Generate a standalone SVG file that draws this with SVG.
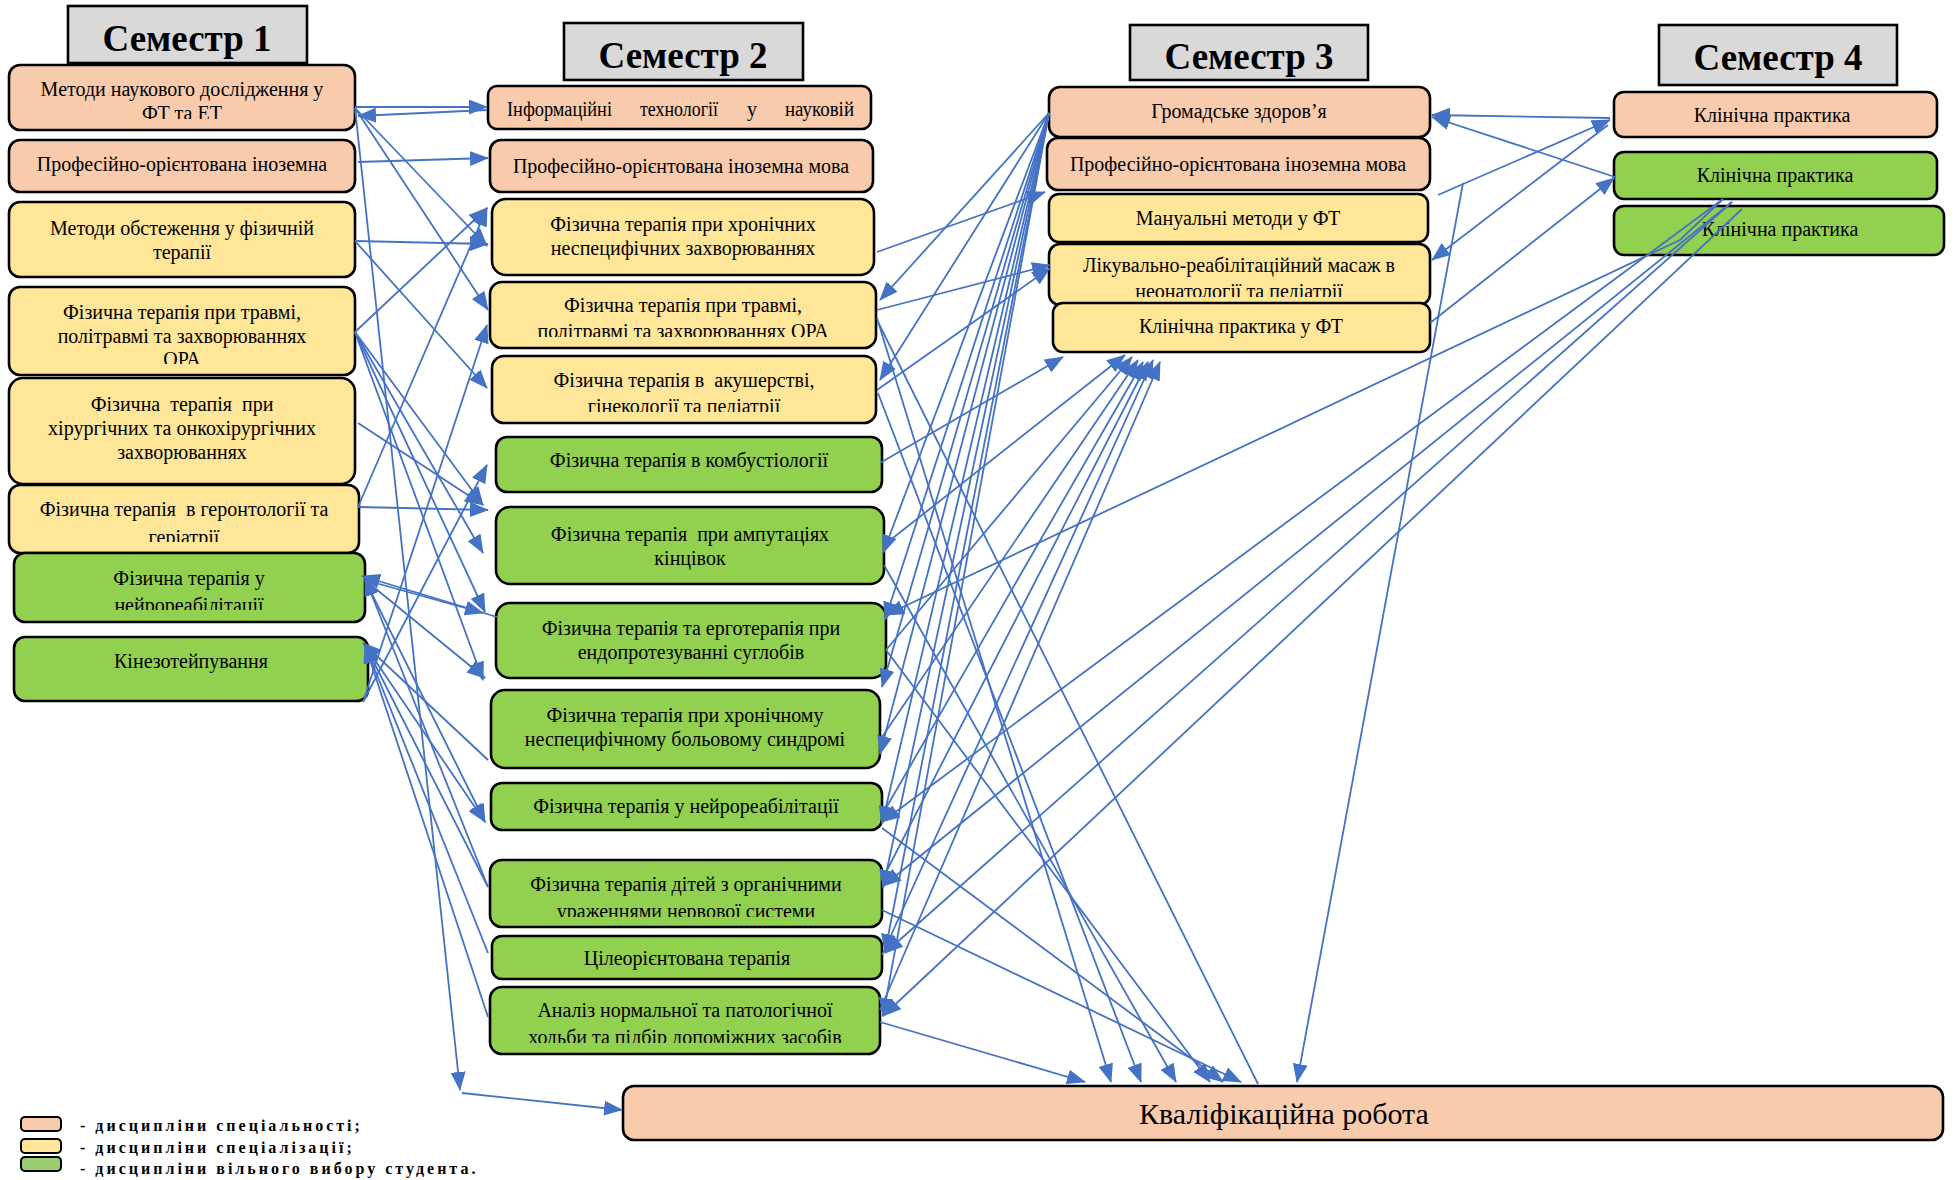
<svg xmlns="http://www.w3.org/2000/svg" width="1957" height="1180" viewBox="0 0 1957 1180">
<style>
.n{stroke:#000;stroke-width:2.6}
.p{fill:#F8CBAD}.y{fill:#FFE699}.g{fill:#92D050}
.h{fill:#D9D9D9;stroke:#000;stroke-width:2.6}
text{font-family:"Liberation Serif","Times New Roman",serif;fill:#000}
.t{font-size:20px;text-anchor:middle}
.ht{font-size:37px;font-weight:bold;text-anchor:middle}
.lg{font-size:16px;font-weight:bold;letter-spacing:3px}
.w{font-size:20px}
.c line,.c polyline{stroke:#4472C4;stroke-width:1.8;fill:none}
.c .a{marker-end:url(#ar)}
</style>
<defs>
<marker id="ar" viewBox="0 0 19 15" refX="18" refY="7.5" markerWidth="19" markerHeight="15" markerUnits="userSpaceOnUse" orient="auto"><path d="M0,0 L19,7.5 L0,15 z" fill="#4472C4"/></marker>
<clipPath id="k1"><rect x="0" y="60" width="400" height="59"/></clipPath>
<clipPath id="k4"><rect x="0" y="280" width="400" height="84"/></clipPath>
<clipPath id="k6"><rect x="0" y="480" width="400" height="62"/></clipPath>
<clipPath id="k7"><rect x="0" y="550" width="400" height="60"/></clipPath>
<clipPath id="m4"><rect x="480" y="280" width="420" height="57"/></clipPath>
<clipPath id="m5"><rect x="480" y="350" width="420" height="62"/></clipPath>
<clipPath id="m11"><rect x="480" y="855" width="420" height="62"/></clipPath>
<clipPath id="m13"><rect x="480" y="985" width="420" height="58"/></clipPath>
<clipPath id="r4"><rect x="1040" y="240" width="400" height="57"/></clipPath>
</defs>
<rect width="1957" height="1180" fill="#fff"/>

<g id="headers">
<g id="sem1"><rect class="h" x="68" y="6" width="239" height="57"/><text class="ht" x="187" y="51">Семестр 1</text></g>
<g id="sem2"><rect class="h" x="564" y="23" width="239" height="57"/><text class="ht" x="683" y="68">Семестр 2</text></g>
<g id="sem3"><rect class="h" x="1130" y="25" width="238" height="55"/><text class="ht" x="1249" y="69">Семестр 3</text></g>
<g id="sem4"><rect class="h" x="1659" y="25" width="238" height="60"/><text class="ht" x="1778" y="70">Семестр 4</text></g>
</g>

<g id="s1n1"><rect class="n p" x="9" y="65" width="346" height="65" rx="11"/><text class="t" x="182" y="96">Методи наукового дослідження у</text><text class="t" x="182" y="120" clip-path="url(#k1)">ФТ та ЕТ</text></g>
<g id="s1n2"><rect class="n p" x="9" y="140" width="346" height="52" rx="11"/><text class="t" x="182" y="171">Професійно-орієнтована іноземна</text></g>
<g id="s1n3"><rect class="n y" x="9" y="202" width="346" height="75" rx="11"/><text class="t" x="182" y="235">Методи обстеження у фізичній</text><text class="t" x="182" y="259">терапії</text></g>
<g id="s1n4"><rect class="n y" x="9" y="287" width="346" height="88" rx="11"/><text class="t" x="182" y="319">Фізична терапія при травмі,</text><text class="t" x="182" y="343">політравмі та захворюваннях</text><text class="t" x="182" y="366" clip-path="url(#k4)">ОРА</text></g>
<g id="s1n5"><rect class="n y" x="9" y="378" width="346" height="106" rx="14"/><text class="t" x="182" y="411" xml:space="preserve">Фізична  терапія  при</text><text class="t" x="182" y="435">хірургічних та онкохірургічних</text><text class="t" x="182" y="459">захворюваннях</text></g>
<g id="s1n6"><rect class="n y" x="9" y="485" width="350" height="68" rx="11"/><text class="t" x="184" y="516" xml:space="preserve">Фізична терапія  в геронтології та</text><text class="t" x="184" y="544" clip-path="url(#k6)">геріатрії</text></g>
<g id="s1n7"><rect class="n g" x="14" y="553" width="351" height="69" rx="11"/><text class="t" x="189" y="585">Фізична терапія у</text><text class="t" x="189" y="612" clip-path="url(#k7)">нейрореабілітації</text></g>
<g id="s1n8"><rect class="n g" x="14" y="637" width="354" height="64" rx="11"/><text class="t" x="191" y="668">Кінезотейпування</text></g>

<g id="s2n1"><rect class="n p" x="488" y="86" width="383" height="43" rx="9"/><text class="w" x="507" y="116" textLength="105" lengthAdjust="spacingAndGlyphs">Інформаційні</text><text class="w" x="640" y="116" textLength="78" lengthAdjust="spacingAndGlyphs">технології</text><text class="w" x="747" y="116" textLength="10" lengthAdjust="spacingAndGlyphs">у</text><text class="w" x="785" y="116" textLength="69" lengthAdjust="spacingAndGlyphs">науковій</text></g>
<g id="s2n2"><rect class="n p" x="490" y="140" width="383" height="52" rx="11"/><text class="t" x="681" y="173">Професійно-орієнтована іноземна мова</text></g>
<g id="s2n3"><rect class="n y" x="492" y="199" width="382" height="76" rx="14"/><text class="t" x="683" y="231">Фізична терапія при хронічних</text><text class="t" x="683" y="255">неспецифічних захворюваннях</text></g>
<g id="s2n4"><rect class="n y" x="490" y="282" width="386" height="66" rx="12"/><text class="t" x="683" y="312">Фізична терапія при травмі,</text><text class="t" x="683" y="338" clip-path="url(#m4)">політравмі та захворюваннях ОРА</text></g>
<g id="s2n5"><rect class="n y" x="492" y="356" width="384" height="67" rx="12"/><text class="t" x="684" y="387" xml:space="preserve">Фізична терапія в  акушерстві,</text><text class="t" x="684" y="413" clip-path="url(#m5)">гінекології та педіатрії</text></g>
<g id="s2n6"><rect class="n g" x="496" y="437" width="386" height="55" rx="11"/><text class="t" x="689" y="467">Фізична терапія в комбустіології</text></g>
<g id="s2n7"><rect class="n g" x="496" y="507" width="388" height="77" rx="14"/><text class="t" x="690" y="541" xml:space="preserve">Фізична терапія  при ампутаціях</text><text class="t" x="690" y="565">кінцівок</text></g>
<g id="s2n8"><rect class="n g" x="496" y="603" width="390" height="75" rx="14"/><text class="t" x="691" y="635">Фізична терапія та ерготерапія при</text><text class="t" x="691" y="659">ендопротезуванні суглобів</text></g>
<g id="s2n9"><rect class="n g" x="491" y="690" width="389" height="78" rx="14"/><text class="t" x="685" y="722">Фізична терапія при хронічному</text><text class="t" x="685" y="746">неспецифічному больовому синдромі</text></g>
<g id="s2n10"><rect class="n g" x="491" y="783" width="391" height="47" rx="11"/><text class="t" x="686" y="813">Фізична терапія у нейрореабілітації</text></g>
<g id="s2n11"><rect class="n g" x="490" y="860" width="392" height="67" rx="12"/><text class="t" x="686" y="891">Фізична терапія дітей з органічними</text><text class="t" x="686" y="918" clip-path="url(#m11)">ураженнями нервової системи</text></g>
<g id="s2n12"><rect class="n g" x="492" y="936" width="390" height="43" rx="10"/><text class="t" x="687" y="965">Цілеорієнтована терапія</text></g>
<g id="s2n13"><rect class="n g" x="490" y="987" width="390" height="67" rx="12"/><text class="t" x="685" y="1017">Аналіз нормальної та патологічної</text><text class="t" x="685" y="1044" clip-path="url(#m13)">ходьби та підбір допоміжних засобів</text></g>

<g id="s3n1"><rect class="n p" x="1049" y="87" width="381" height="50" rx="11"/><text class="t" x="1239" y="118">Громадське здоров’я</text></g>
<g id="s3n2"><rect class="n p" x="1047" y="138" width="383" height="52" rx="11"/><text class="t" x="1238" y="171">Професійно-орієнтована іноземна мова</text></g>
<g id="s3n3"><rect class="n y" x="1049" y="194" width="379" height="48" rx="10"/><text class="t" x="1238" y="225">Мануальні методи у ФТ</text></g>
<g id="s3n4"><rect class="n y" x="1049" y="244" width="381" height="61" rx="11"/><text class="t" x="1239" y="272">Лікувально-реабілітаційний масаж в</text><text class="t" x="1239" y="298" clip-path="url(#r4)">неонатології та педіатрії</text></g>
<g id="s3n5"><rect class="n y" x="1053" y="303" width="377" height="49" rx="10"/><text class="t" x="1241" y="333">Клінічна практика у ФТ</text></g>

<g id="s4n1"><rect class="n p" x="1614" y="92" width="323" height="45" rx="10"/><text class="t" x="1772" y="122">Клінічна практика</text></g>
<g id="s4n2"><rect class="n g" x="1614" y="152" width="323" height="47" rx="10"/><text class="t" x="1775" y="182">Клінічна практика</text></g>
<g id="s4n3"><rect class="n g" x="1614" y="206" width="330" height="49" rx="10"/><text class="t" x="1780" y="236">Клінічна практика</text></g>

<g id="thesis"><rect class="n p" x="623" y="1086" width="1320" height="54" rx="11"/><text x="1284" y="1124" style="font-size:30px;text-anchor:middle">Кваліфікаційна робота</text></g>

<g id="legend">
<rect class="n p" x="21" y="1117" width="40" height="14" rx="4" style="stroke-width:2"/>
<rect class="n y" x="21" y="1139" width="40" height="14" rx="4" style="stroke-width:2"/>
<rect class="n" x="21" y="1157" width="40" height="14" rx="4" style="stroke-width:2;fill:#9ACB6E"/>
<text class="lg" x="80" y="1131">- дисципліни спеціальності;</text>
<text class="lg" x="80" y="1153">- дисципліни спеціалізації;</text>
<text class="lg" x="80" y="1174">- дисципліни вільного вибору студента.</text>
</g>

<g id="connectors" class="c">
<line class="a" x1="355" y1="107" x2="487" y2="107"/>
<line class="a" x1="487" y1="110" x2="358" y2="116"/>
<line class="a" x1="358" y1="162" x2="488" y2="158"/>
<line class="a" x1="355" y1="108" x2="487" y2="246"/>
<line class="a" x1="355" y1="108" x2="488" y2="310"/>
<line class="a" x1="355" y1="108" x2="460" y2="1090"/>
<line class="a" x1="462" y1="1093" x2="622" y2="1110"/>
<line class="a" x1="355" y1="241" x2="488" y2="244"/>
<line class="a" x1="355" y1="241" x2="487" y2="388"/>
<line class="a" x1="355" y1="332" x2="487" y2="208"/>
<line class="a" x1="358" y1="507" x2="487" y2="208"/>
<line class="a" x1="355" y1="332" x2="483" y2="505"/>
<line class="a" x1="355" y1="332" x2="483" y2="553"/>
<line class="a" x1="355" y1="332" x2="485" y2="612"/>
<line class="a" x1="355" y1="332" x2="483" y2="680"/>
<line class="a" x1="358" y1="423" x2="483" y2="505"/>
<line class="a" x1="358" y1="507" x2="488" y2="510"/>
<line class="a" x1="363" y1="702" x2="487" y2="325"/>
<line class="a" x1="363" y1="702" x2="487" y2="465"/>
<line class="a" x1="497" y1="617" x2="362" y2="576"/>
<line class="a" x1="365" y1="580" x2="483" y2="613"/>
<line class="a" x1="365" y1="580" x2="485" y2="678"/>
<line class="a" x1="365" y1="580" x2="485" y2="822"/>
<line class="a" x1="488" y1="760" x2="363" y2="643"/>
<line class="a" x1="488" y1="887" x2="365" y2="578"/>
<line class="a" x1="488" y1="887" x2="365" y2="645"/>
<line class="a" x1="488" y1="953" x2="365" y2="645"/>
<line class="a" x1="488" y1="1017" x2="365" y2="645"/>
<line class="a" x1="366" y1="647" x2="485" y2="822"/>

<line class="a" x1="1049" y1="113" x2="880" y2="300"/>
<line class="a" x1="1049" y1="113" x2="880" y2="380"/>
<line class="a" x1="1049" y1="113" x2="883" y2="553"/>
<line class="a" x1="1049" y1="113" x2="885" y2="620"/>
<line class="a" x1="1049" y1="113" x2="882" y2="687"/>
<line class="a" x1="1049" y1="113" x2="880" y2="754"/>
<line class="a" x1="1049" y1="113" x2="882" y2="824"/>
<line class="a" x1="1049" y1="113" x2="883" y2="888"/>
<line class="a" x1="1049" y1="113" x2="885" y2="952"/>
<line class="a" x1="1049" y1="113" x2="883" y2="1016"/>
<line class="a" x1="877" y1="252" x2="1045" y2="192"/>
<line class="a" x1="877" y1="310" x2="1050" y2="265"/>
<line class="a" x1="877" y1="390" x2="1050" y2="268"/>
<line class="a" x1="880" y1="463" x2="1063" y2="357"/>
<line class="a" x1="884" y1="545" x2="1125" y2="355"/>
<line class="a" x1="886" y1="650" x2="1132" y2="357"/>
<line class="a" x1="880" y1="740" x2="1138" y2="360"/>
<line class="a" x1="882" y1="815" x2="1143" y2="362"/>
<line class="a" x1="882" y1="880" x2="1148" y2="362"/>
<line class="a" x1="882" y1="955" x2="1153" y2="360"/>
<line class="a" x1="880" y1="1010" x2="1160" y2="362"/>

<line class="a" x1="880" y1="1022" x2="1085" y2="1082"/>
<line class="a" x1="877" y1="318" x2="1111" y2="1082"/>
<line class="a" x1="878" y1="393" x2="1141" y2="1082"/>
<line class="a" x1="884" y1="565" x2="1176" y2="1082"/>
<line class="a" x1="886" y1="650" x2="1210" y2="1082"/>
<line class="a" x1="882" y1="828" x2="1223" y2="1082"/>
<line class="a" x1="882" y1="910" x2="1241" y2="1082"/>
<line x1="878" y1="322" x2="1258" y2="1084"/>
<line class="a" x1="1463" y1="183" x2="1297" y2="1082"/>

<line class="a" x1="1610" y1="118" x2="1432" y2="115"/>
<line class="a" x1="1615" y1="177" x2="1432" y2="117"/>
<line class="a" x1="1438" y1="195" x2="1610" y2="120"/>
<line class="a" x1="1608" y1="125" x2="1432" y2="260"/>
<line class="a" x1="1430" y1="323" x2="1614" y2="178"/>
<polyline class="a" points="1723,199 1680,240 886,615"/>
<line class="a" x1="1723" y1="199" x2="882" y2="822"/>
<line class="a" x1="1732" y1="202" x2="883" y2="886"/>
<line class="a" x1="1732" y1="202" x2="885" y2="953"/>
<line class="a" x1="1742" y1="209" x2="883" y2="1016"/>
</g>
</svg>
